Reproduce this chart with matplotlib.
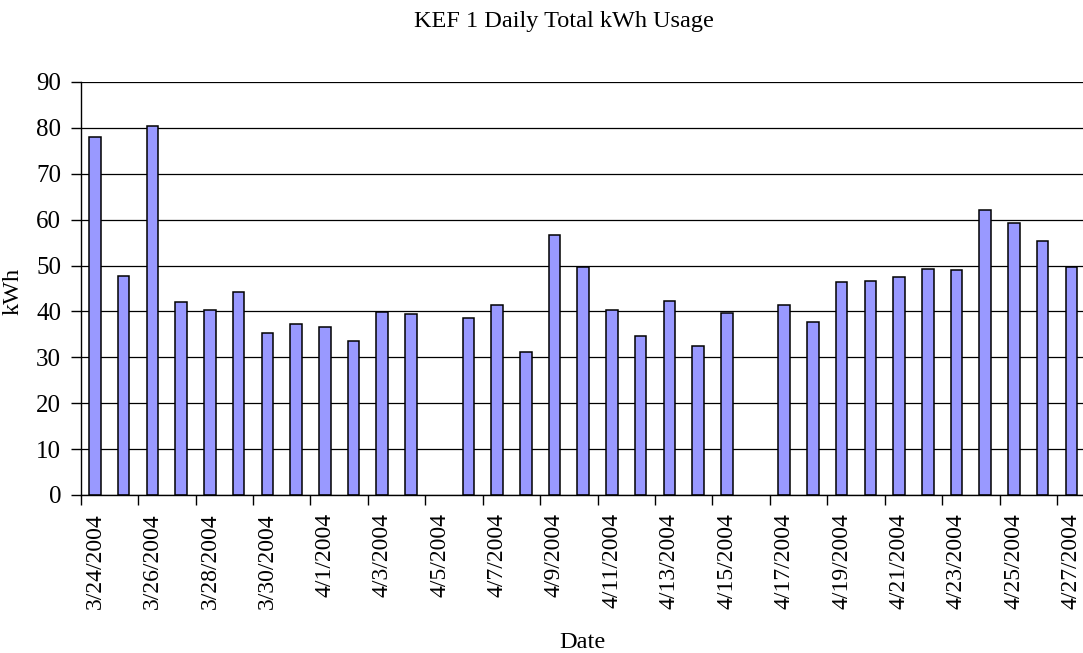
import numpy as np
import matplotlib
matplotlib.use("Agg")
import matplotlib.pyplot as plt

plt.rcParams['font.family'] = ['Liberation Serif', 'DejaVu Serif']

# one entry per day, 3/24/2004 .. 4/27/2004, None = no reading
days = ['3/24/2004', '3/25/2004', '3/26/2004', '3/27/2004', '3/28/2004', '3/29/2004',
        '3/30/2004', '3/31/2004', '4/1/2004', '4/2/2004', '4/3/2004', '4/4/2004',
        '4/5/2004', '4/6/2004', '4/7/2004', '4/8/2004', '4/9/2004', '4/10/2004',
        '4/11/2004', '4/12/2004', '4/13/2004', '4/14/2004', '4/15/2004', '4/16/2004',
        '4/17/2004', '4/18/2004', '4/19/2004', '4/20/2004', '4/21/2004', '4/22/2004',
        '4/23/2004', '4/24/2004', '4/25/2004', '4/26/2004', '4/27/2004']
kwh = [78.1, 47.8, 80.5, 42.0, 40.2, 44.3,
       35.2, 37.2, 36.7, 33.6, 39.8, 39.5,
       None, 38.5, 41.5, 31.2, 56.7, 49.7,
       40.2, 34.6, 42.2, 32.4, 39.7, None,
       41.5, 37.8, 46.3, 46.6, 47.4, 49.2,
       49.1, 62.2, 59.3, 55.3, 49.6]
yticks = [0, 10, 20, 30, 40, 50, 60, 70, 80, 90]

fig = plt.figure(figsize=(10.83, 6.53), dpi=100)
ax = fig.add_axes([0.0745, 0.242, 0.928, 0.6325])

x = [i for i, v in enumerate(kwh) if v is not None]
y = [v for v in kwh if v is not None]
ax.bar(x, y, width=0.4, color='#9999FF', edgecolor='black', linewidth=1.1, zorder=3)

ax.set_xlim(-0.5, len(days) - 0.5)
ax.set_ylim(0, 90)
ax.set_yticks(yticks)
ax.yaxis.grid(True, color='black', linewidth=0.9, zorder=0)
ax.tick_params(axis='y', direction='out', length=7, width=1, pad=7, labelsize=18)

# labels every other day, tick marks at category boundaries
ax.set_xticks(range(0, len(days), 2))
ax.set_xticklabels(days[::2], rotation=90, fontsize=17)
ax.set_xticks(np.arange(-0.5, len(days), 2), minor=True)
ax.tick_params(axis='x', which='major', length=0, pad=13)
ax.tick_params(axis='x', which='minor', direction='out', length=7, width=1)

for s in ['top', 'right']:
    ax.spines[s].set_visible(False)
ax.spines['left'].set_linewidth(1)
ax.spines['bottom'].set_linewidth(1)
ax.spines['bottom'].set_zorder(4)

fig.text(0.521, 0.959, 'KEF 1 Daily Total kWh Usage', ha='center', va='baseline', fontsize=17.5)
fig.text(0.538, 0.008, 'Date', ha='center', va='baseline', fontsize=17.5)
fig.text(0.012, 0.554, 'kWh', ha='center', va='center', rotation=90, fontsize=17.5)

fig.savefig('out.png', dpi=100)
